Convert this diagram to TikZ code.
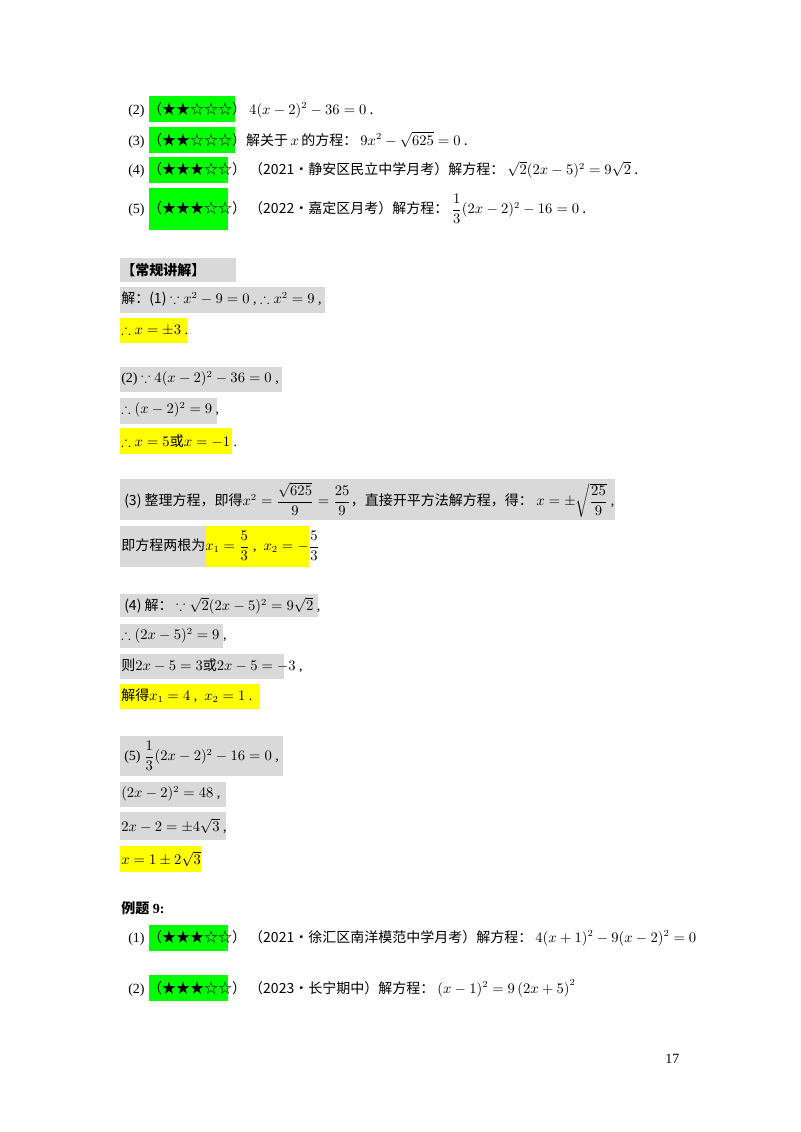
\documentclass[tikz,border=0pt]{standalone}
\usepackage{amsmath,amssymb}
\usepackage{fontspec}
\setmainfont{Liberation Serif}
\newfontfamily\cjk{Noto Sans CJK SC}
\definecolor{gbox}{HTML}{D9D9D9}
\definecolor{ybox}{HTML}{FFFF00}
\definecolor{grn}{HTML}{00FF00}
\newcommand{\stars}[1]{\cjk （#1）}
\begin{document}
\begin{tikzpicture}[x=0.75pt,y=-0.75pt,
  tx/.style={anchor=west,inner sep=0pt,font=\fontsize{10.5}{12}\selectfont}]
\useasboundingbox (0,0) rectangle (800,1132);
\fill[white] (0,0) rectangle (800,1132);
% green boxes
\foreach \a/\b/\c/\d in {149/96/235/122,149/127/235/153,149/157/228/183,149/188/228/230,149/925/228/951,149/975/228/1001}
  \fill[grn] (\a,\b) rectangle (\c,\d);
% gray boxes
\foreach \a/\b/\c/\d in {120/258/236/282,120/287/325/313,120/367/282/392,120/398/217/424,120/479/615/520,120/526/207/567,120/594/318/617,120/624/223/648,120/654/284/679,120/736/283/776,120/782/226/807,120/812/226/840}
  \fill[gbox] (\a,\b) rectangle (\c,\d);
% yellow boxes
\foreach \a/\b/\c/\d in {120/318/187/343,120/428/232/454,206/526/309/567,120/684/260/709,120/846/201/872}
  \fill[ybox] (\a,\b) rectangle (\c,\d);

\node[tx] (q2) at (128,110) {(2) \stars{★★☆☆☆} $4(x-2)^2-36=0$ .};
\node[tx] (q3) at (128,140) {(3) \stars{★★☆☆☆}{\cjk 解关于}$\,x\,${\cjk 的方程：} $9x^2-\sqrt{625}=0$ .};
\node[tx] (q4) at (128,170) {(4) \stars{★★★☆☆} {\cjk （}2021{\cjk •静安区民立中学月考）解方程：} $\sqrt{2}(2x-5)^2=9\sqrt{2}$ .};
\node[tx] (q5) at (128,209) {(5) \stars{★★★☆☆} {\cjk （}2022{\cjk •嘉定区月考）解方程：} $\dfrac{1}{3}(2x-2)^2-16=0$ .};

\node[tx] (h) at (121,270) {\cjk\bfseries 【常规讲解】};
\node[tx] (s1) at (121,299) {{\cjk 解：(1)} $\because x^2-9=0$ , $\therefore x^2=9$ ,};
\node[tx] (s1b) at (121,330) {$\therefore x=\pm3$ .};
\node[tx] (s2) at (121,379) {(2) $\because 4(x-2)^2-36=0$ ,};
\node[tx] (s2b) at (121,410) {$\therefore (x-2)^2=9$ ,};
\node[tx] (s2c) at (121,441) {$\therefore x=5${\cjk 或}$x=-1$ .};
\node[tx] (s3) at (124,500) {{\cjk (3) 整理方程，即得}$x^2=\dfrac{\sqrt{625}}{9}=\dfrac{25}{9}${\cjk ，直接开平方法解方程，得：} $x=\pm\sqrt{\dfrac{25}{9}}$ ,};
\node[tx] (s3b) at (121,546) {{\cjk 即方程两根为}$x_1=\dfrac{5}{3}$ ,\ \ $x_2=-\dfrac{5}{3}$};
\node[tx] (s4) at (124,606) {{\cjk (4) 解：} $\because\sqrt{2}(2x-5)^2=9\sqrt{2}$ ,};
\node[tx] (s4b) at (121,636) {$\therefore (2x-5)^2=9$ ,};
\node[tx] (s4c) at (121,666) {{\cjk 则}$2x-5=3${\cjk 或}$2x-5=-3$ ,};
\node[tx] (s4d) at (121,696) {{\cjk 解得}$x_1=4$ ,\ \ $x_2=1$ .};
\node[tx] (s5) at (124,756) {(5) $\dfrac{1}{3}(2x-2)^2-16=0$ ,};
\node[tx] (s5b) at (121,794) {$(2x-2)^2=48$ ,};
\node[tx] (s5c) at (121,826) {$2x-2=\pm4\sqrt{3}$ ,};
\node[tx] (s5d) at (121,859) {$x=1\pm2\sqrt{3}$};

\node[tx] (e9) at (121,908) {{\cjk\bfseries 例题}\textbf{ 9:}};
\node[tx] (e1) at (128,938) {(1) \stars{★★★☆☆} {\cjk （}2021{\cjk •徐汇区南洋模范中学月考）解方程：} $4(x+1)^2-9(x-2)^2=0$};
\node[tx] (e2) at (128,988) {(2) \stars{★★★☆☆} {\cjk （}2023{\cjk •长宁期中）解方程：} $(x-1)^2=9\left(2x+5\right)^2$};
\node[tx] (pg) at (665,1059) {17};
\end{tikzpicture}
\end{document}
